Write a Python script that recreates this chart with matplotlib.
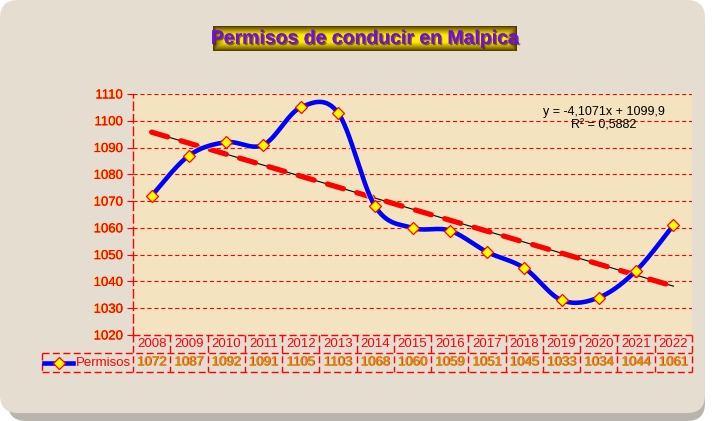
import numpy as np
import matplotlib
matplotlib.use("Agg")
import matplotlib.pyplot as plt
from matplotlib.patches import FancyBboxPatch, Rectangle
from matplotlib.lines import Line2D
import matplotlib.patheffects as pe
import matplotlib.transforms as mtrans

years = ["2008", "2009", "2010", "2011", "2012", "2013", "2014", "2015",
         "2016", "2017", "2018", "2019", "2020", "2021", "2022"]
permisos = [1072, 1087, 1092, 1091, 1105, 1103, 1068, 1060,
            1059, 1051, 1045, 1033, 1034, 1044, 1061]
yticks = [1020, 1030, 1040, 1050, 1060, 1070, 1080, 1090, 1100, 1110]
series_name = "Permisos"
title = "Permisos de conducir en Malpica"

plt.rcParams['font.family'] = ['Liberation Sans', 'DejaVu Sans']
plt.rcParams['lines.scale_dashes'] = False

W, H = 713, 421
fig = plt.figure(figsize=(W / 100, H / 100), dpi=100)
fig.patch.set_facecolor('white')

def fx(px):
    return px / W

def fy(py):
    return 1 - py / H

# chart area with shadow
shadow = FancyBboxPatch((fx(8), fy(421)), fx(705 - 8 + 0), fy(8) - fy(421),
                        boxstyle="round,pad=0,rounding_size=0.025",
                        transform=fig.transFigure, facecolor='#b9b5ad',
                        edgecolor='none', zorder=0, mutation_aspect=W / H)
fig.patches.append(shadow)
chart = FancyBboxPatch((fx(0), fy(413)), fx(705), fy(0) - fy(413),
                       boxstyle="round,pad=0,rounding_size=0.025",
                       transform=fig.transFigure, facecolor='#e4ddd0',
                       edgecolor='none', zorder=1, mutation_aspect=W / H)
fig.patches.append(chart)

# plot axes
L, R, T, B = 133, 692, 94, 335
ax = fig.add_axes([fx(L), fy(B), fx(R - L), fy(T) - fy(B)])
ax.set_zorder(3)
ax.set_facecolor('#f3e3be')
x = np.arange(1, len(permisos) + 1)
y = np.array(permisos, dtype=float)
ax.set_xlim(0.5, len(x) + 0.5)
ax.set_ylim(yticks[0], yticks[-1])

# gridlines
for t in yticks:
    ax.axhline(t, color='#ff0000', lw=0.8, ls=(0, (3, 2)), zorder=1)

ax.set_yticks(yticks)
ax.set_yticklabels([str(t) for t in yticks])
ax.tick_params(axis='y', colors='#ff0000', length=4, width=0.8, labelsize=9.5,
               pad=3)
for lab in ax.get_yticklabels():
    lab.set_color('#ff0000')
    lab.set_path_effects([pe.withSimplePatchShadow(offset=(-0.8, 0), shadow_rgbFace='#ffd000', alpha=0.9), pe.Normal()])
ax.set_xticks([])
for s in ['top', 'right', 'bottom']:
    ax.spines[s].set_visible(False)
ax.spines['left'].set_color('#ff0000')
ax.spines['left'].set_linestyle((0, (6, 3)))
ax.spines['left'].set_linewidth(1.0)

# trendline
slope, intercept = np.polyfit(x, y, 1)
fit = slope * x + intercept
r2 = 1 - np.sum((y - fit) ** 2) / np.sum((y - y.mean()) ** 2)
ax.plot(x, fit, color='black', lw=0.8, zorder=3)
ax.plot(x, fit, color='#ff0000', lw=3.8, ls=(0, (12, 10)), zorder=3,
        solid_capstyle='round', dash_capstyle='round')

# smoothed line (Catmull-Rom style bezier like Excel)
def smooth(xs, ys, n=30):
    P = np.column_stack([xs, ys])
    ext = np.vstack([P[0], P, P[-1]])
    out = []
    for i in range(len(P) - 1):
        p0, p1, p2, p3 = ext[i], ext[i + 1], ext[i + 2], ext[i + 3]
        c1 = p1 + (p2 - p0) / 6
        c2 = p2 - (p3 - p1) / 6
        t = np.linspace(0, 1, n)[:, None]
        seg = ((1 - t) ** 3) * p1 + 3 * ((1 - t) ** 2) * t * c1 + 3 * (1 - t) * t ** 2 * c2 + t ** 3 * p2
        out.append(seg if i == 0 else seg[1:])
    return np.vstack(out)

curve = smooth(x, y)
ax.plot(curve[:, 0], curve[:, 1], color='#0000ff', lw=3.3, zorder=4,
        solid_capstyle='round',
        path_effects=[pe.Stroke(linewidth=4.6, foreground='#fff4b0', alpha=0.7), pe.Normal()])
ax.plot(x, y, ls='none', marker='D', ms=6.5, mfc='#ffff00', mec='#ff0000',
        mew=0.9, zorder=5)

# equation
eq = "y = {}x + {}".format(f"{slope:.4f}".replace('.', ','), f"{intercept:.1f}".replace('.', ','))
fig.text(fx(604), fy(112), eq, ha='center', va='center', fontsize=9,
         color='black', zorder=6)
fig.text(fx(604), fy(126), "R² = " + f"{r2:.4f}".replace('.', ','), ha='center',
         va='center', fontsize=9, color='black', zorder=6)

# data table
trans = mtrans.blended_transform_factory(ax.transData, ax.transAxes)
h = B - T
r1 = -(353 - B) / h
r2y = -(372 - B) / h
legL = 0.5 + (42 - L) / ((R - L) / len(x))
dash = (0, (5, 2.5))
red = '#ff0000'
def tline(xs, ys):
    ax.add_line(Line2D(xs, ys, transform=trans, color=red, lw=1.0, ls=dash,
                       clip_on=False, zorder=6))
tline([0.5, len(x) + 0.5], [0, 0])
tline([legL, len(x) + 0.5], [r1, r1])
tline([legL, len(x) + 0.5], [r2y, r2y])
for b in np.arange(0.5, len(x) + 1):
    tline([b, b], [0, r2y])
tline([legL, legL], [r1, r2y])

for xi, yr, v in zip(x, years, permisos):
    ax.text(xi, r1 / 2, yr, transform=trans, ha='center', va='center',
            fontsize=9.5, color=red, clip_on=False, zorder=7)
    ax.text(xi, (r1 + r2y) / 2, str(v), transform=trans, ha='center',
            va='center', fontsize=9.5, color='#d49000', clip_on=False, zorder=7,
            path_effects=[pe.withSimplePatchShadow(offset=(0.7, 0), shadow_rgbFace='#ff0000', alpha=0.8), pe.Normal()])

# legend key in table
kx0 = legL + (44 - 42) / ((R - L) / len(x))
kx1 = legL + (73 - 42) / ((R - L) / len(x))
ky = (r1 + r2y) / 2
ax.add_line(Line2D([kx0, kx1], [ky, ky], transform=trans, color='#0000ff',
                   lw=3.3, clip_on=False, zorder=7))
ax.add_line(Line2D([(kx0 + kx1) / 2], [ky], transform=trans, ls='none',
                   marker='D', ms=6.5, mfc='#ffff00', mec='#ff0000', mew=0.9,
                   clip_on=False, zorder=8))
ax.text(legL + (76 - 42) / ((R - L) / len(x)), ky, series_name, transform=trans,
        ha='left', va='center', fontsize=9.5, color=red, clip_on=False, zorder=7)

# title box with gradient
tx0, tx1, ty0, ty1 = 213, 517, 26, 51
tax = fig.add_axes([fx(tx0), fy(ty1), fx(tx1 - tx0), fy(ty0) - fy(ty1)])
tax.set_zorder(4)
tw, th = tx1 - tx0, ty1 - ty0
yy = np.linspace(0, 1, th * 4)
xx = np.linspace(0, 1, tw * 4)
dy = np.clip(np.minimum(yy, 1 - yy) * th / 9.0, 0, 1)
dxv = np.clip(np.minimum(xx, 1 - xx) * tw / 12.0, 0, 1)
wgt = np.minimum(dy[:, None], dxv[None, :]) ** 0.8
dark = np.array([0.28, 0.18, 0.0])
yel = np.array([1.0, 0.93, 0.0])
img = dark[None, None, :] * (1 - wgt[..., None]) + yel[None, None, :] * wgt[..., None]
tax.imshow(img, aspect='auto', extent=[0, 1, 0, 1], interpolation='bilinear')
tax.set_xlim(0, 1)
tax.set_ylim(0, 1)
tax.axis('off')
tax.text(0.5, 0.47, title, ha='center', va='center', fontsize=14,
         fontweight='bold', color='#7010d8',
         path_effects=[pe.withSimplePatchShadow(offset=(1, -1), shadow_rgbFace='#402000', alpha=0.6), pe.Normal()])

fig.savefig("out.png", dpi=100, facecolor=fig.get_facecolor())
